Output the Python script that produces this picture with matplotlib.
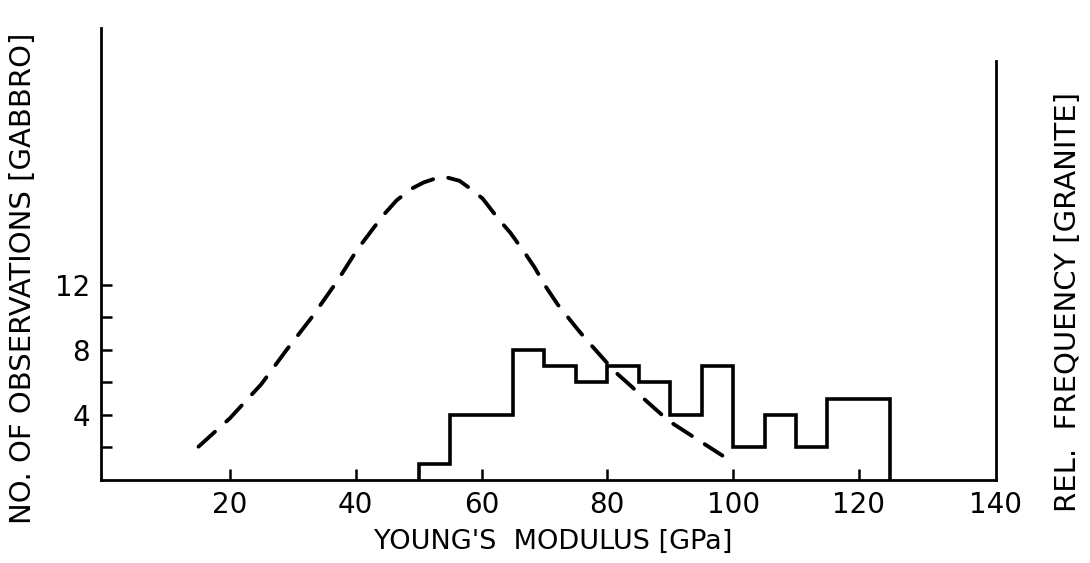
import numpy as np
import matplotlib
matplotlib.use("Agg")
import matplotlib.pyplot as plt

# gabbro histogram (number of observations per 5 GPa bin)
bin_edges = [50, 55, 60, 65, 70, 75, 80, 85, 90, 95, 100, 105, 110, 115, 120, 125]
gabbro_counts = [1, 4, 4, 8, 7, 6, 7, 6, 4, 7, 2, 4, 2, 5, 5]

granite_x = [15, 20, 25, 29, 33, 37, 40.3, 44.3, 46.5, 48.8, 50.8, 52.7, 54.6, 56.5, 58.3, 60.2,
             62.8, 64.6, 67, 68.4, 70.2, 72.1, 75, 76.5, 79.5, 81.1, 84, 85.8, 88.7, 90.3, 93.5, 98.3]
granite_y = [2.05, 3.8, 5.9, 8.0, 10.0, 12.2, 14.2, 16.25, 17.2, 17.9, 18.3, 18.55, 18.6, 18.4, 17.9, 17.3,
             16.0, 15.2, 13.9, 13.1, 11.9, 10.8, 9.4, 8.7, 7.4, 6.7, 5.7, 5.0, 4.0, 3.5, 2.7, 1.5]

x_ticks = [20, 40, 60, 80, 100, 120]
x_ticklabels = ["20", "40", "60", "80", "100", "120", "140"]
y_ticks = [2, 4, 6, 8, 10, 12]
y_ticklabels = ["", "4", "", "8", "", "12"]

plt.rcParams['font.family'] = ['DejaVu Sans']
plt.rcParams['lines.scale_dashes'] = False

fig = plt.figure(figsize=(10.9, 5.63), dpi=100)
ax = fig.add_axes([101 / 1090, 83 / 563, 895 / 1090, 452 / 563])

xmax = 141.8
ax.set_xlim(-0.5, xmax)
ax.set_ylim(0, 27.8)

ax.stairs(gabbro_counts, bin_edges, baseline=0, color='black', linewidth=2.6)
ax.plot(granite_x, granite_y, color='black', linewidth=2.8,
        dashes=(16, 11), dash_capstyle='round')

# axes styling
for s in ['left', 'bottom', 'right']:
    ax.spines[s].set_linewidth(2.0)
ax.spines['top'].set_visible(False)
ax.spines['right'].set_bounds(0, 25.8)

ax.set_xticks(x_ticks + [xmax])
ax.set_xticklabels(x_ticklabels)
ax.set_yticks(y_ticks)
ax.set_yticklabels(y_ticklabels)
ax.tick_params(axis='both', direction='in', length=8, width=1.8,
               labelsize=20, pad=8)
ax.xaxis.get_major_ticks()[-1].tick1line.set_visible(False)

fig.text(553 / 1090, 1 - 542 / 563, "YOUNG'S  MODULUS [GPa]", fontsize=19.5,
         ha='center', va='center')
fig.text(23 / 1090, 1 - 278 / 563, "NO. OF OBSERVATIONS [GABBRO]", fontsize=21,
         rotation=90, ha='center', va='center')
fig.text(1068 / 1090, 1 - 302 / 563, "REL.  FREQUENCY [GRANITE]", fontsize=21,
         rotation=90, ha='center', va='center')

fig.savefig("out.png", dpi=100)
